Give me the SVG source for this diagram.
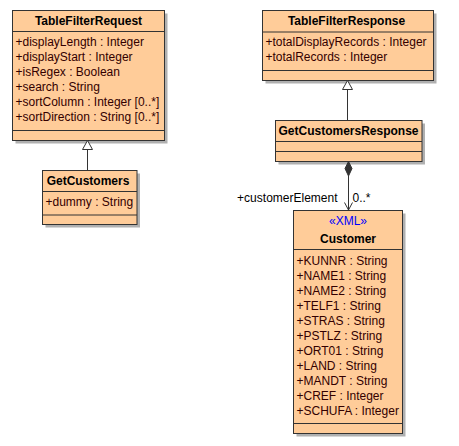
<svg xmlns="http://www.w3.org/2000/svg" width="459" height="446" viewBox="0 0 459 446">
<style>
.box{fill:#FFCC99;stroke:#333333;stroke-width:1}
.shadow{fill:#B0B0B0}
.sep{stroke:#333333;stroke-width:1}
.title{font-family:"Liberation Sans",Arial,sans-serif;font-size:12px;font-weight:bold;fill:#000000;text-anchor:middle}
.attr{font-family:"Liberation Sans",Arial,sans-serif;font-size:12px;fill:#330000}
.stereo{font-family:"Liberation Sans",Arial,sans-serif;font-size:12px;fill:#0000FF;text-anchor:middle}
.lbl{font-family:"Liberation Sans",Arial,sans-serif;font-size:12px;fill:#000000}
.line{stroke:#333333;stroke-width:1;fill:none}
</style>
<rect width="459" height="446" fill="#FFFFFF"/>
<g id="TableFilterRequest">
<rect class="shadow" x="15.5" y="13.5" width="152" height="130"/>
<rect class="box" x="12.5" y="10.5" width="152" height="130"/>
<line class="sep" x1="12.5" y1="31.5" x2="164.5" y2="31.5"/>
<line class="sep" x1="12.5" y1="130.5" x2="164.5" y2="130.5"/>
<text class="title" x="88.5" y="25">TableFilterRequest</text>
<text class="attr" x="15.5" y="46">+displayLength : Integer</text>
<text class="attr" x="15.5" y="61">+displayStart : Integer</text>
<text class="attr" x="15.5" y="76">+isRegex : Boolean</text>
<text class="attr" x="15.5" y="91">+search : String</text>
<text class="attr" x="15.5" y="106">+sortColumn : Integer [0..*]</text>
<text class="attr" x="15.5" y="121">+sortDirection : String [0..*]</text>
</g>
<g id="GetCustomers">
<rect class="shadow" x="45.5" y="173.5" width="94.5" height="54"/>
<rect class="box" x="42.5" y="170.5" width="94.5" height="54"/>
<line class="sep" x1="42.5" y1="191.5" x2="137" y2="191.5"/>
<line class="sep" x1="42.5" y1="215" x2="137" y2="215"/>
<text class="title" x="88" y="185">GetCustomers</text>
<text class="attr" x="45.5" y="206">+dummy : String</text>
</g>
<g id="TableFilterResponse">
<rect class="shadow" x="265.5" y="13.5" width="171" height="70"/>
<rect class="box" x="262.5" y="10.5" width="171" height="70"/>
<line class="sep" x1="262.5" y1="32" x2="433.5" y2="32"/>
<line class="sep" x1="262.5" y1="70.5" x2="433.5" y2="70.5"/>
<text class="title" x="346.5" y="25">TableFilterResponse</text>
<text class="attr" x="265.5" y="46">+totalDisplayRecords : Integer</text>
<text class="attr" x="265.5" y="61">+totalRecords : Integer</text>
</g>
<g id="GetCustomersResponse">
<rect class="shadow" x="278.5" y="123.5" width="146.5" height="41"/>
<rect class="box" x="275.5" y="120.5" width="146.5" height="41"/>
<line class="sep" x1="275.5" y1="141.5" x2="422" y2="141.5"/>
<line class="sep" x1="275.5" y1="151.5" x2="422" y2="151.5"/>
<text class="title" x="348.5" y="135">GetCustomersResponse</text>
</g>
<g id="Customer">
<rect class="shadow" x="296.5" y="213.5" width="109" height="223"/>
<rect class="box" x="293.5" y="210.5" width="109" height="223"/>
<line class="sep" x1="293.5" y1="249.5" x2="402.5" y2="249.5"/>
<line class="sep" x1="293.5" y1="423.5" x2="402.5" y2="423.5"/>
<text class="stereo" x="348" y="225">«XML»</text>
<text class="title" x="348" y="242.5">Customer</text>
<text class="attr" x="296.5" y="264.5">+KUNNR : String</text>
<text class="attr" x="296.5" y="279.5">+NAME1 : String</text>
<text class="attr" x="296.5" y="294.5">+NAME2 : String</text>
<text class="attr" x="296.5" y="309.5">+TELF1 : String</text>
<text class="attr" x="296.5" y="324.5">+STRAS : String</text>
<text class="attr" x="296.5" y="339.5">+PSTLZ : String</text>
<text class="attr" x="296.5" y="354.5">+ORT01 : String</text>
<text class="attr" x="296.5" y="369.5">+LAND : String</text>
<text class="attr" x="296.5" y="384.5">+MANDT : String</text>
<text class="attr" x="296.5" y="399.5">+CREF : Integer</text>
<text class="attr" x="296.5" y="414.5">+SCHUFA : Integer</text>
</g>
<g id="connectors">
<line class="line" x1="87.5" y1="170.5" x2="87.5" y2="149.5"/>
<polygon points="87.5,140.5 82.5,149.5 92.5,149.5" fill="#FFFFFF" stroke="#333333"/>
<line class="line" x1="347.5" y1="120.5" x2="347.5" y2="89.5"/>
<polygon points="347.5,80.5 342.5,89.5 352.5,89.5" fill="#FFFFFF" stroke="#333333"/>
<line class="line" x1="348.5" y1="176" x2="348.5" y2="210"/>
<polygon points="348.5,161.5 352,168.5 348.5,176 345,168.5" fill="#333333" stroke="#333333"/>
<polyline class="line" points="344.5,202.5 348.5,210 352.5,202.5"/>
<text class="lbl" x="337.5" y="202" text-anchor="end">+customerElement</text>
<text class="lbl" x="352.5" y="202">0..*</text>
</g>
</svg>
